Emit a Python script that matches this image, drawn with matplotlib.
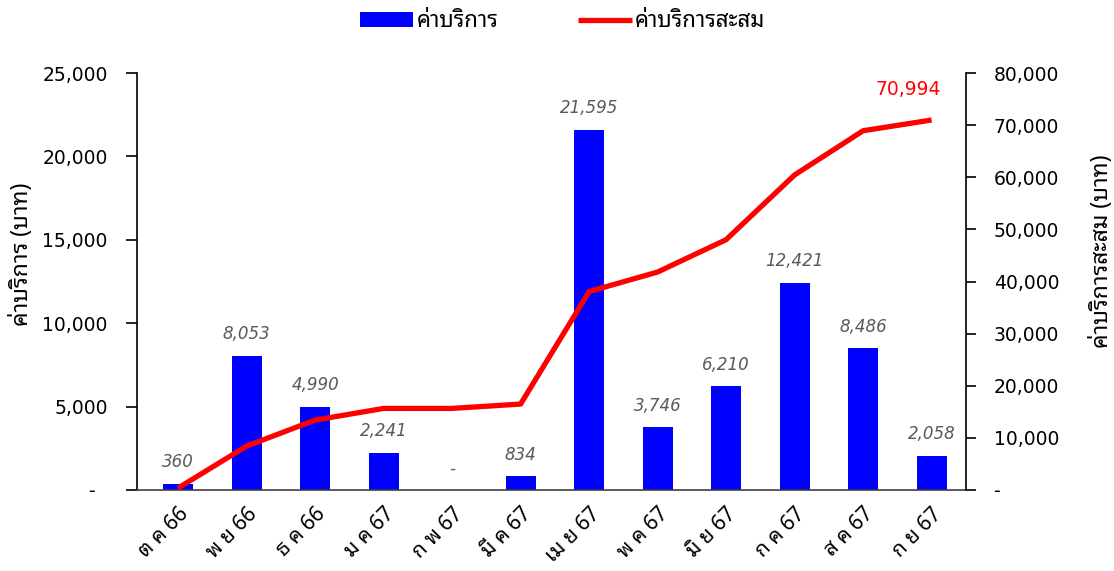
import matplotlib
matplotlib.use("Agg")
import matplotlib.pyplot as plt
from matplotlib.ticker import FuncFormatter, MultipleLocator

THAI = ['Noto Sans Thai Looped', 'DejaVu Sans']
NUM = ['DejaVu Sans']
plt.rcParams['font.family'] = THAI

# data
months = ["ต ค 66", "พ ย 66", "ธ ค 66", "ม ค 67", "ก พ 67", "มี ค 67",
          "เม ย 67", "พ ค 67", "มิ ย 67", "ก ค 67", "ส ค 67", "ก ย 67"]
fees = [360, 8053, 4990, 2241, 0, 834, 21595, 3746, 6210, 12421, 8486, 2058]
fees_cum = [360, 8413, 13403, 15644, 15644, 16478, 38073, 41819, 48029,
            60450, 68936, 70994]


def fmt(v, pos=None):
    # Excel style: zero shown as dash
    return "-" if v == 0 else f"{v:,.0f}"


fig = plt.figure(figsize=(11.14, 5.71), dpi=100)
ax = fig.add_axes([0.123, 0.142, 0.744, 0.730])
ax2 = ax.twinx()

x = list(range(len(months)))
bars = ax.bar(x, fees, width=0.44, color="#0000FF", label="ค่าบริการ", zorder=2)
line, = ax2.plot(x, fees_cum, color="#FF0000", lw=3.8, label="ค่าบริการสะสม",
                 solid_capstyle="butt", zorder=3)

# value labels over bars
for xi, v in zip(x, fees):
    ax.annotate(fmt(v), (xi, v), xytext=(0, 9), textcoords="offset points",
                ha="center", va="bottom", fontsize=12, style="italic",
                color="#595959", family=NUM)

# last cumulative value
ax2.annotate(f"{fees_cum[-1]:,.0f}", (x[-1], fees_cum[-1]), xytext=(-17, 15),
             textcoords="offset points", ha="center", va="bottom",
             fontsize=13.5, color="#FF0000", family=NUM)

ax.set_xlim(-0.6, len(months) - 0.5)
ax.set_ylim(0, 25000)
ax2.set_ylim(0, 80000)
ax.yaxis.set_major_locator(MultipleLocator(5000))
ax2.yaxis.set_major_locator(MultipleLocator(10000))
ax.yaxis.set_major_formatter(FuncFormatter(lambda v, p: "-  " if v == 0 else fmt(v)))
ax2.yaxis.set_major_formatter(FuncFormatter(fmt))

ax.set_xticks(x)
ax.set_xticklabels(months, rotation=45, ha="right", rotation_mode="anchor",
                   fontsize=15)
ax.tick_params(axis="x", length=0, pad=10)
ax.tick_params(axis="y", labelsize=13.5, length=8, width=1.2, pad=13)
ax2.tick_params(axis="y", labelsize=13.5, length=7, width=1.2, pad=13)
for lab in ax.get_yticklabels() + ax2.get_yticklabels():
    lab.set_family(NUM)

for a in (ax, ax2):
    a.spines["top"].set_visible(False)
ax.spines["left"].set_linewidth(1.2)
ax2.spines["right"].set_linewidth(1.2)
ax2.spines["left"].set_visible(False)
ax2.spines["bottom"].set_visible(False)
ax.spines["right"].set_visible(False)
ax.spines["bottom"].set_color("#404040")
ax.spines["bottom"].set_linewidth(1.2)

ax.set_ylabel("ค่าบริการ (บาท)", fontsize=16.5)
ax2.set_ylabel("ค่าบริการสะสม (บาท)", fontsize=16.5, rotation=90)
ax.yaxis.set_label_coords(-0.124, 0.566)
ax2.yaxis.set_label_coords(1.150, 0.573)

fig.legend(handles=[bars, line], loc="upper center", bbox_to_anchor=(0.505, 1.015),
           ncol=2, frameon=False, fontsize=16, columnspacing=3.6,
           handlelength=2.4, handletextpad=0.15)

fig.savefig("out.png", dpi=100)
